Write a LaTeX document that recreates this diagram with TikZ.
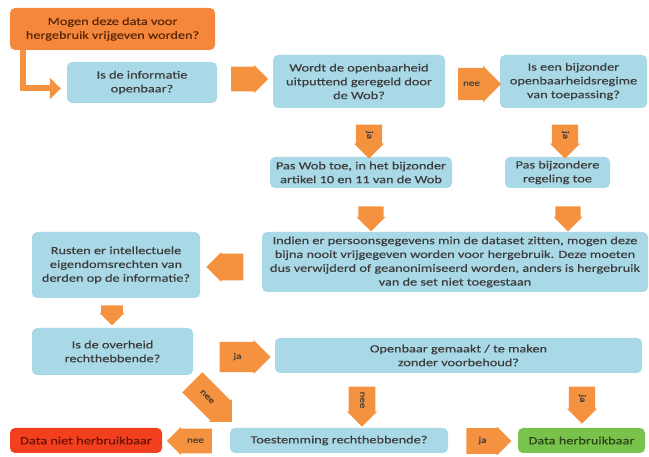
\documentclass[tikz,border=0pt]{standalone}
\usepackage{fontspec}
\setmainfont[FakeStretch=1.3,FakeBold=0.3]{Carlito}
\usetikzlibrary{shapes.arrows,arrows.meta}
\definecolor{orbox}{HTML}{F4873B}
\definecolor{blbox}{HTML}{A9D9E7}
\definecolor{arrc}{HTML}{F5923F}
\definecolor{grbox}{HTML}{79C24B}
\definecolor{rdbox}{HTML}{F2401F}
\definecolor{txt}{HTML}{3C3C3C}
\definecolor{txtr}{HTML}{6E1208}
\definecolor{txtg}{HTML}{2A4418}
\definecolor{txto}{HTML}{5A2608}
\begin{document}
\begin{tikzpicture}[x=1pt,y=-1pt,
  box/.style={rounded corners=5pt, inner sep=1pt, align=center, text=txt,
    font=\fontsize{11}{13.8}\selectfont, minimum width=#1},
  bbox/.style={box=#1, fill=blbox},
  arr/.style n args={3}{single arrow, fill=arrc, draw=none, minimum height=#1,
    minimum width=#2, inner xsep=1pt, inner ysep=#3, text height=5pt, text depth=1.5pt,
    single arrow head extend=1pt, text=txt, font=\fontsize{8.5}{9}\selectfont},
]
\useasboundingbox (0,0) rectangle (649,457);
\fill[white] (0,0) rectangle (649,457);
% boxes
\node[box=205pt, fill=orbox, text=txto, minimum height=42pt] (A) at (112.5,29) {Mogen deze data voor\\hergebruik vrijgeven worden?};
\node[bbox=150pt, minimum height=41pt] (B) at (142,82.5) {Is de informatie\\openbaar?};
\node[bbox=172pt, minimum height=53pt] (C) at (359,81.5) {Wordt de openbaarheid\\uitputtend geregeld door\\de Wob?};
\node[bbox=147pt, minimum height=53pt] (D) at (573.5,81.5) {Is een bijzonder\\openbaarheidsregime\\van toepassing?};
\node[bbox=182pt, minimum height=31pt] (E) at (361,172.5) {Pas Wob toe, in het bijzonder\\artikel 10 en 11 van de Wob};
\node[bbox=105pt, minimum height=31pt] (F) at (557.5,172.5) {Pas bijzondere\\regeling toe};
\node[bbox=386pt, minimum height=60pt] (G) at (455,262) {Indien er persoonsgegevens min de dataset zitten, mogen deze\\bijna nooit vrijgegeven worden voor hergebruik. Deze moeten\\dus verwijderd of geanonimiseerd worden, anders is hergebruik\\van de set niet toegestaan};
\node[bbox=168pt, minimum height=66pt] (H) at (116,265) {Rusten er intellectuele\\eigendomsrechten van\\derden op de informatie?};
\node[bbox=161pt, minimum height=47pt] (I) at (112.5,351.5) {Is de overheid\\rechthebbende?};
\node[bbox=367pt, minimum height=35pt] (J) at (458.5,355.5) {Openbaar gemaakt / te maken\\zonder voorbehoud?};
\node[bbox=218pt, minimum height=25pt] (K) at (339,440.5) {Toestemming rechthebbende?};
\node[box=127pt, fill=grbox, text=txtg, minimum height=25pt] (L) at (581.5,440.5) {Data herbruikbaar};
\node[box=152pt, fill=rdbox, text=txtr, minimum height=25pt] (M) at (86,440.5) {Data niet herbruikbaar};
% L-shaped start arrow
\coordinate (s0) at ([xshift=13pt]A.south west);
\coordinate (s1) at ([xshift=-6pt,yshift=-6pt]B.west);
\draw[arrc, line width=6pt, -{Triangle[length=11pt,width=21pt]}] (s0) |- (s1);
% block arrows
\node[arr={37pt}{28pt}{4pt}] (a1) at (243.5,79) {};
\node[arr={43pt}{36pt}{5pt}] (a2) at (471.5,84) {nee};
\node[arr={34pt}{30pt}{4pt}, rotate=-90] (a3) at (369,135) {ja};
\node[arr={34pt}{30pt}{4pt}, rotate=-90] (a4) at (565,135) {ja};
\node[arr={25pt}{29pt}{3pt}] [rotate=-90] (a5) at (371,212.5) {};
\node[arr={25pt}{29pt}{3pt}] [rotate=-90] (a6) at (568,212.5) {};
\node[arr={37pt}{30pt}{5pt}, shape border rotate=180] (a7) at (231.5,267) {};
\node[arr={20pt}{25pt}{3pt}, rotate=-90] (a8) at (112,310) {};
\node[arr={51pt}{34pt}{5pt}] (a9) at (237.5,357) {ja};
\node[arr={56pt}{32pt}{5pt}, rotate=-45] (a10) at (207,397) {nee};
\node[arr={40pt}{30pt}{5pt}, rotate=-90] (a11) at (362,400) {nee};
\node[arr={37pt}{30pt}{4pt}, rotate=-90] (a12) at (582,398.5) {ja};
\node[arr={45pt}{29pt}{4pt}] (a13) at (482.5,441) {ja};
\node[arr={45pt}{28pt}{4pt}, shape border rotate=180] (a14) at (195.5,441) {nee};
\end{tikzpicture}
\end{document}
